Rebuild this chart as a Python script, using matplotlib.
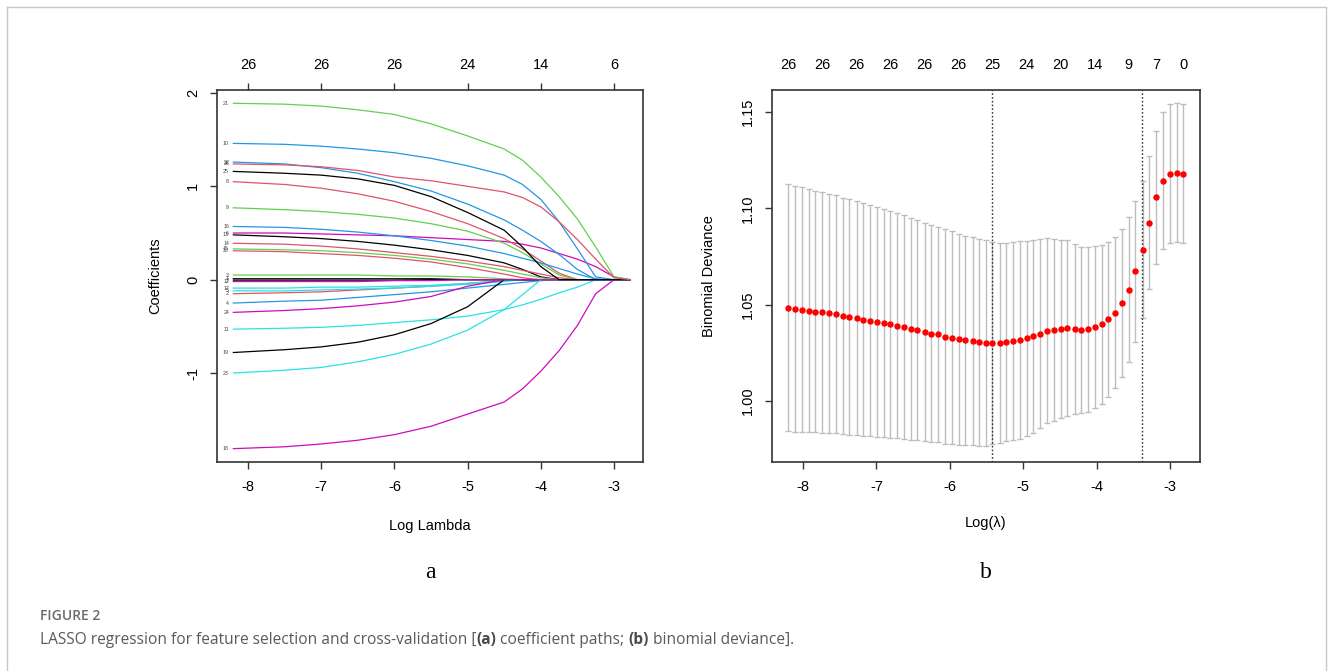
import numpy as np
import matplotlib.pyplot as plt
from matplotlib.lines import Line2D

plt.rcParams['font.family'] = ['Liberation Sans', 'DejaVu Sans']
plt.rcParams['axes.unicode_minus'] = False

# ---- panel a: lasso coefficient paths ----
path_loglam = [-8.2, -7.5, -7.0, -6.5, -6.0, -5.5, -5.0, -4.5, -4.25, -4.0, -3.75, -3.5, -3.25, -3.0, -2.78]
coef_paths = {
    1:  [0.01, 0.01, 0.01, 0.01, 0.01, 0.01, 0, 0, 0, 0, 0, 0, 0, 0, 0],
    2:  [-0.15, -0.14, -0.13, -0.11, -0.09, -0.07, -0.04, -0.01, 0, 0, 0, 0, 0, 0, 0],
    3:  [0.05, 0.05, 0.05, 0.05, 0.04, 0.04, 0.03, 0.01, 0, 0, 0, 0, 0, 0, 0],
    4:  [-0.25, -0.23, -0.22, -0.19, -0.16, -0.13, -0.09, -0.05, -0.03, -0.01, 0, 0, 0, 0, 0],
    5:  [-0.12, -0.12, -0.11, -0.10, -0.09, -0.07, -0.05, -0.02, 0, 0, 0, 0, 0, 0, 0],
    6:  [0.50, 0.50, 0.49, 0.48, 0.47, 0.45, 0.43, 0.41, 0.38, 0.34, 0.28, 0.22, 0.14, 0.03, 0],
    7:  [-0.005, -0.005, -0.005, -0.005, -0.005, 0, 0, 0, 0, 0, 0, 0, 0, 0, 0],
    8:  [1.05, 1.02, 0.98, 0.92, 0.84, 0.73, 0.60, 0.44, 0.33, 0.20, 0.07, 0, 0, 0, 0],
    9:  [0.77, 0.75, 0.73, 0.70, 0.66, 0.60, 0.52, 0.39, 0.29, 0.17, 0.05, 0, 0, 0, 0],
    10: [1.46, 1.45, 1.43, 1.40, 1.36, 1.30, 1.22, 1.12, 1.02, 0.86, 0.62, 0.33, 0.03, 0, 0],
    11: [-0.53, -0.52, -0.51, -0.49, -0.46, -0.43, -0.39, -0.32, -0.27, -0.21, -0.14, -0.08, 0, 0, 0],
    12: [-0.02, -0.02, -0.02, -0.02, -0.01, -0.01, 0, 0, 0, 0, 0, 0, 0, 0, 0],
    13: [0.48, 0.46, 0.44, 0.41, 0.37, 0.32, 0.26, 0.18, 0.11, 0.03, 0, 0, 0, 0, 0],
    14: [0.39, 0.38, 0.36, 0.33, 0.29, 0.25, 0.20, 0.14, 0.10, 0.06, 0.02, 0, 0, 0, 0],
    15: [0.33, 0.32, 0.31, 0.29, 0.26, 0.22, 0.17, 0.10, 0.06, 0.02, 0, 0, 0, 0, 0],
    16: [0.57, 0.56, 0.54, 0.51, 0.47, 0.42, 0.36, 0.28, 0.23, 0.18, 0.12, 0.06, 0.01, 0, 0],
    17: [-0.09, -0.09, -0.08, -0.08, -0.07, -0.06, -0.04, -0.01, 0, 0, 0, 0, 0, 0, 0],
    18: [-1.81, -1.79, -1.76, -1.72, -1.66, -1.57, -1.44, -1.31, -1.17, -0.98, -0.76, -0.49, -0.15, 0, 0],
    19: [-0.78, -0.75, -0.72, -0.67, -0.59, -0.47, -0.29, 0, 0, 0, 0, 0, 0, 0, 0],
    20: [0.31, 0.30, 0.28, 0.26, 0.23, 0.19, 0.13, 0.06, 0.02, 0, 0, 0, 0, 0, 0],
    21: [1.89, 1.88, 1.86, 1.82, 1.77, 1.67, 1.54, 1.40, 1.28, 1.10, 0.89, 0.65, 0.35, 0.03, 0],
    22: [1.26, 1.24, 1.20, 1.14, 1.05, 0.95, 0.81, 0.64, 0.53, 0.41, 0.27, 0.11, 0, 0, 0],
    23: [-1.00, -0.97, -0.94, -0.88, -0.80, -0.69, -0.54, -0.32, -0.16, 0, 0, 0, 0, 0, 0],
    24: [-0.35, -0.33, -0.31, -0.28, -0.24, -0.18, -0.07, 0, 0, 0, 0, 0, 0, 0, 0],
    25: [1.16, 1.14, 1.12, 1.08, 1.01, 0.89, 0.72, 0.53, 0.35, 0.14, 0, 0, 0, 0, 0],
    26: [1.24, 1.23, 1.21, 1.17, 1.10, 1.06, 1.00, 0.94, 0.88, 0.78, 0.62, 0.43, 0.22, 0.02, 0],
}
ticks_a = [-8, -7, -6, -5, -4, -3]
nzero_a = [26, 26, 26, 24, 14, 6]

# ---- panel b: 10-fold cv binomial deviance ----
cv_loglam = [-8.20, -8.11, -8.01, -7.92, -7.83, -7.74, -7.64, -7.55, -7.46, -7.37,
             -7.27, -7.18, -7.09, -6.99, -6.90, -6.81, -6.72, -6.62, -6.53, -6.44,
             -6.34, -6.25, -6.16, -6.07, -5.97, -5.88, -5.79, -5.69, -5.60, -5.51,
             -5.42, -5.32, -5.23, -5.14, -5.05, -4.95, -4.86, -4.77, -4.67, -4.58,
             -4.49, -4.40, -4.30, -4.21, -4.12, -4.02, -3.93, -3.84, -3.75, -3.65,
             -3.56, -3.47, -3.37, -3.28, -3.19, -3.10, -3.00, -2.91, -2.82]
cv_mean = [1.0484, 1.0479, 1.0474, 1.0469, 1.0464, 1.0460, 1.0455, 1.0450, 1.0441, 1.0436,
           1.0431, 1.0421, 1.0416, 1.0411, 1.0403, 1.0398, 1.0391, 1.0384, 1.0372, 1.0367,
           1.0358, 1.0350, 1.0345, 1.0334, 1.0329, 1.0319, 1.0314, 1.0310, 1.0305, 1.0301,
           1.0300, 1.0300, 1.0306, 1.0311, 1.0316, 1.0325, 1.0335, 1.0349, 1.0365, 1.0368,
           1.0373, 1.0379, 1.0373, 1.0368, 1.0373, 1.0384, 1.0399, 1.0424, 1.0459, 1.0509,
           1.0578, 1.0673, 1.0786, 1.0926, 1.1056, 1.1144, 1.1180, 1.1185, 1.1180]
cv_se = [0.0642, 0.0638, 0.0634, 0.0630, 0.0627, 0.0624, 0.0620, 0.0617, 0.0614, 0.0611,
         0.0608, 0.0604, 0.0600, 0.0596, 0.0592, 0.0588, 0.0584, 0.0580, 0.0576, 0.0572,
         0.0568, 0.0564, 0.0560, 0.0556, 0.0552, 0.0548, 0.0544, 0.0540, 0.0537, 0.0534,
         0.0523, 0.0520, 0.0516, 0.0515, 0.0513, 0.0507, 0.0500, 0.0490, 0.0480, 0.0470,
         0.0462, 0.0455, 0.0442, 0.0433, 0.0428, 0.0422, 0.0413, 0.0403, 0.0391, 0.0385,
         0.0375, 0.0365, 0.0356, 0.0344, 0.0344, 0.0355, 0.0362, 0.0360, 0.0359]
nzero_b_at = [0, 5, 10, 15, 20, 25, 30, 35, 40, 45, 50, 54, 58]
nzero_b = [26, 26, 26, 26, 26, 26, 25, 24, 20, 14, 9, 7, 0]
lambda_min = -5.42
lambda_1se = -3.38

# R default palette (col = 1:6 in matplot)
r_pal = ['black', '#DF536B', '#61D04F', '#2297E6', '#28E2E5', '#CD0BBC']
spine_col = '#333333'
fs = 10.5

fig = plt.figure(figsize=(13.33, 6.71), dpi=100)


def style_axes(ax):
    for s in ax.spines.values():
        s.set_color(spine_col)
        s.set_linewidth(1.2)
    ax.tick_params(axis='both', length=5, width=1, color=spine_col, labelsize=fs)
    ax.tick_params(axis='x', pad=8)
    ax.tick_params(axis='y', pad=7, labelrotation=90)
    for lab in ax.get_yticklabels():
        lab.set_va('center')


# panel a
ax1 = fig.add_axes([217 / 1333, 1 - 462 / 671, 426 / 1333, 372 / 671])
for v in sorted(coef_paths):
    vals = coef_paths[v]
    ax1.plot(path_loglam, vals, color=r_pal[(v - 1) % 6], lw=0.9)
    ax1.text(path_loglam[0] - 0.06, vals[0], str(v), fontsize=3.8, ha='right', va='center', color='#444444')
ax1.set_xlim(-8.4235, -2.604)
ax1.set_ylim(-1.953, 2.032)
ax1.set_xticks(ticks_a)
ax1.set_yticks([-1, 0, 1, 2])
style_axes(ax1)
ax1.set_xlabel('Log Lambda', fontsize=fs, labelpad=18)
ax1.set_ylabel('Coefficients', fontsize=fs, labelpad=17)
top1 = ax1.secondary_xaxis('top')
top1.set_xticks(ticks_a, labels=[str(n) for n in nzero_a])
top1.tick_params(length=5, width=1, color=spine_col, labelsize=fs, pad=8)
top1.spines['top'].set_visible(False)

# panel b
ax2 = fig.add_axes([772 / 1333, 1 - 462 / 671, 428 / 1333, 372 / 671])
ax2.errorbar(cv_loglam, cv_mean, yerr=cv_se, fmt='none', ecolor='#bdbdbd',
             elinewidth=1, capsize=2.2, capthick=1, zorder=1)
ax2.plot(cv_loglam, cv_mean, 'o', color='red', ms=3.6, mec='red', zorder=3)
ax2.axvline(lambda_min, ls=(0, (1.2, 1.5)), color='#333333', lw=1, zorder=2)
ax2.axvline(lambda_1se, ls=(0, (1.2, 1.5)), color='#333333', lw=1, zorder=2)
ax2.set_xlim(-8.422, -2.591)
ax2.set_ylim(0.9683, 1.1614)
ax2.set_xticks(ticks_a)
ax2.set_yticks([1.00, 1.05, 1.10, 1.15])
ax2.set_yticklabels(['1.00', '1.05', '1.10', '1.15'])
style_axes(ax2)
ax2.set_xlabel('Log(λ)', fontsize=fs, labelpad=16)
ax2.set_ylabel('Binomial Deviance', fontsize=fs, labelpad=18)
top2 = ax2.secondary_xaxis('top')
top2.set_xticks([cv_loglam[i] for i in nzero_b_at], labels=[str(n) for n in nzero_b])
top2.tick_params(length=0, labelsize=fs, pad=13)
top2.spines['top'].set_visible(False)

# panel letters
fig.text(430 / 1333, 1 - 572 / 671, 'a', fontsize=17, family='Liberation Serif', ha='center', va='center')
fig.text(986 / 1333, 1 - 572 / 671, 'b', fontsize=17, family='Liberation Serif', ha='center', va='center')

# caption
fig.text(40 / 1333, 1 - 616 / 671, 'FIGURE 2', fontsize=10, family='Open Sans', color='#6b6b6b',
         fontweight='semibold', va='center', fontstretch='condensed')
cap_parts = [('LASSO regression for feature selection and cross-validation [', 'normal'),
             ('(a)', 'bold'), (' coefficient paths; ', 'normal'), ('(b)', 'bold'),
             (' binomial deviance].', 'normal')]
prev = fig.text(40 / 1333, 1 - 648 / 671, cap_parts[0][0], fontsize=11.2, family='Open Sans',
                color='#5a5a5a', va='bottom')
for txt, wt in cap_parts[1:]:
    prev = ax1.annotate(txt, xy=(1, 0), xycoords=prev, va='bottom', ha='left', fontsize=11.2,
                        family='Open Sans', color='#4a4a4a' if wt == 'bold' else '#5a5a5a',
                        fontweight=wt, annotation_clip=False)

# thin frame around the figure panel
for xs, ys in [([7, 1326], [7, 7]), ([7, 7], [7, 671]), ([1326, 1326], [7, 671])]:
    fig.add_artist(Line2D([x / 1333 for x in xs], [1 - y / 671 for y in ys], color='#c8c8c8', lw=1))

fig.savefig('out.png', dpi=100)
